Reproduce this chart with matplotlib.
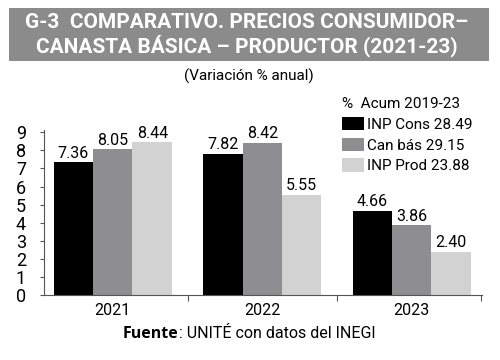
import matplotlib
matplotlib.use("Agg")
import matplotlib.pyplot as plt
from matplotlib import font_manager
from matplotlib.patches import Rectangle
import numpy as np

names = {f.name for f in font_manager.fontManager.ttflist}
FONT = "Liberation Sans Narrow" if "Liberation Sans Narrow" in names else "Roboto"
plt.rcParams['font.family'] = [FONT, 'DejaVu Sans']

years = ["2021", "2022", "2023"]
series = ["INP Cons 28.49", "Can bás 29.15", "INP Prod 23.88"]
inp_cons = [7.36, 7.82, 4.66]
can_bas = [8.05, 8.42, 3.86]
inp_prod = [8.44, 5.55, 2.40]
labels = [["7.36", "7.82", "4.66"], ["8.05", "8.42", "3.86"], ["8.44", "5.55", "2.40"]]
colors = ["#000000", "#8e8e90", "#d2d2d2"]
yticks = list(range(0, 10))

fig = plt.figure(figsize=(5, 3.6), dpi=100)
fig.patch.set_facecolor("white")
fig.patches.append(Rectangle((9/500, 1-61/360), 480/500, 53/360, transform=fig.transFigure,
                             facecolor="#8b8b8b", edgecolor="none"))
fig.text(0.494, 1-23/360, "G-3  COMPARATIVO. PRECIOS CONSUMIDOR–", ha="center", va="center",
         color="white", fontsize=15, fontweight="bold")
fig.text(0.494, 1-46/360, "CANASTA BÁSICA – PRODUCTOR (2021-23)", ha="center", va="center",
         color="white", fontsize=15, fontweight="bold")
fig.text(0.497, 1-76/360, "(Variación % anual)", ha="center", va="center", fontsize=11)

ax = fig.add_axes([44/500, 65/360, 438/500, 0.4594])
x = np.arange(len(years))
w = 0.264
data = [inp_cons, can_bas, inp_prod]
handles = []
for i, (vals, c) in enumerate(zip(data, colors)):
    b = ax.bar(x + (i - 1) * w, vals, w, color=c, label=series[i])
    handles.append(b)
    for xi, v, lab in zip(x + (i - 1) * w, vals, labels[i]):
        ax.text(xi, v + 0.08, lab, ha="center", va="bottom", fontsize=11.5)

ax.set_xlim(-0.46, 2.47)
ax.set_ylim(0, 9.15)
ax.set_yticks(yticks)
ax.set_yticklabels([str(t) for t in yticks], fontsize=13)
ax.set_xticks(x)
ax.set_xticklabels(years, fontsize=11.5)
ax.set_xticks([0.5, 1.5, 2.465], minor=True)
ax.tick_params(axis="x", which="major", length=0, pad=6)
ax.tick_params(axis="x", which="minor", length=4, width=0.8, color="#555555")
ax.tick_params(axis="y", length=3, width=0.8, color="#555555", pad=10)
for s in ["top", "right"]:
    ax.spines[s].set_visible(False)
for s in ["left", "bottom"]:
    ax.spines[s].set_color("#555555")
    ax.spines[s].set_linewidth(0.8)

leg = ax.legend(handles=handles, loc="upper left", bbox_to_anchor=(292/438, 1.235),
                frameon=False, fontsize=11, title="%  Acum 2019-23", title_fontsize=11,
                handlelength=1.4, handleheight=1.0, handletextpad=0.2, labelspacing=0.38,
                borderaxespad=0)
leg._legend_box.align = "left"

t1 = fig.text(123/500, 1-334/360, "Fuente", ha="left", va="center", fontsize=11.5, fontweight="bold",
              family=["Open Sans", "DejaVu Sans"])
fig.canvas.draw()
bb = t1.get_window_extent()
fig.text(bb.x1 / fig.bbox.width, 1-334/360, ": UNITÉ con datos del INEGI", ha="left", va="center",
         fontsize=11.5)

fig.savefig("out.png", dpi=100)
